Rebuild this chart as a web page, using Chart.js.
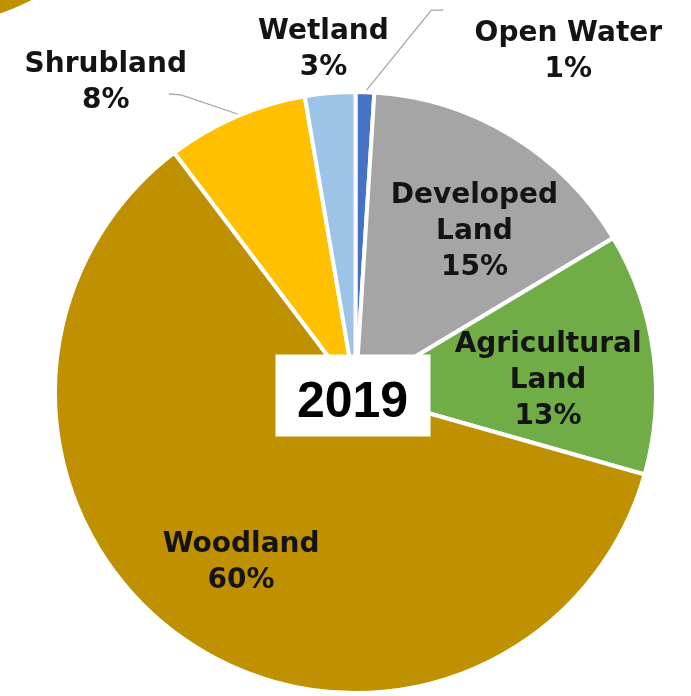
<!DOCTYPE html>
<html><head><meta charset="utf-8">
<script src="https://cdn.jsdelivr.net/npm/chart.js@4.4.1/dist/chart.umd.min.js"></script>
<style>
html,body{margin:0;padding:0;background:#fff;overflow:hidden;}
#wrap{position:relative;width:691px;height:696px;}
#corner{position:absolute;left:-401px;top:-569px;width:600px;height:600px;border-radius:50%;background:#BF9000;}
#c{position:absolute;left:0;top:0;}
</style></head><body>
<div id="wrap"><div id="corner"></div><canvas id="c" width="691" height="696"></canvas></div>
<script>
// ---- data ----
const categories = ['Open Water', 'Developed Land', 'Agricultural Land', 'Woodland', 'Shrubland', 'Wetland'];
const shares = [1.0, 15.4, 13.0, 60.3, 7.6, 2.7];
const labelLines = [['Open Water'], ['Developed', 'Land'], ['Agricultural', 'Land'], ['Woodland'], ['Shrubland'], ['Wetland']];
const yearLabel = '2019';

// ---- styling ----
const colors = ['#4472C4', '#A5A5A5', '#70AD47', '#BF9000', '#FFC000', '#9DC3E6'];
// label placement: polar (deg clockwise from top, distance in radius units)
const labelPolar = [[31.8, 1.353], [36, 0.678], [85.6, 0.647], [214.3, 0.68], [321.4, 1.341], [354.7, 1.162]];
const leaderLines = {
  0: [[0.037, -1.013], [0.254, -1.281], [0.294, -1.281]],
  4: [[-0.625, -1.0], [-0.585, -0.997], [-0.395, -0.933]]
};
const LABEL_FONT = 'bold 28px "DejaVu Sans"';
const LINE_GAP = 36;

const labelPlugin = {
  id: 'pieLabels',
  afterDatasetsDraw(chart) {
    const ctx = chart.ctx;
    const meta = chart.getDatasetMeta(0);
    const a0 = meta.data[0];
    const cx = a0.x, cy = a0.y, R = a0.outerRadius - 2;
    const total = shares.reduce((s, v) => s + v, 0);
    ctx.save();
    // leader lines
    ctx.strokeStyle = '#A6A6A6';
    ctx.lineWidth = 1.3;
    Object.keys(leaderLines).forEach(k => {
      const pts = leaderLines[k];
      ctx.beginPath();
      pts.forEach((p, i) => {
        const x = cx + p[0] * R, y = cy + p[1] * R;
        if (i === 0) ctx.moveTo(x, y); else ctx.lineTo(x, y);
      });
      ctx.stroke();
    });
    // labels
    ctx.fillStyle = '#141414';
    ctx.font = LABEL_FONT;
    ctx.textAlign = 'center';
    ctx.textBaseline = 'alphabetic';
    shares.forEach((v, i) => {
      const lines = labelLines[i].concat([Math.round(v / total * 100) + '%']);
      const [deg, d] = labelPolar[i];
      const rad = deg * Math.PI / 180;
      const bx = cx + Math.sin(rad) * d * R;
      const by = cy - Math.cos(rad) * d * R;
      const n = lines.length;
      lines.forEach((t, j) => {
        ctx.fillText(t, bx, by + (j - (n - 1) / 2) * LINE_GAP + 10);
      });
    });
    // year box
    ctx.fillStyle = '#ffffff';
    ctx.fillRect(cx - 80, cy - 38, 155, 82);
    ctx.fillStyle = '#000000';
    ctx.font = 'bold 50px "Liberation Sans"';
    ctx.fillText(yearLabel, cx - 3, cy + 24);
    ctx.restore();
  }
};

new Chart(document.getElementById('c'), {
  type: 'pie',
  data: {
    labels: categories,
    datasets: [{
      data: shares,
      backgroundColor: colors,
      borderColor: '#ffffff',
      borderWidth: 4
    }]
  },
  options: {
    responsive: false,
    animation: false,
    rotation: 0,
    layout: { padding: { left: 53, right: 33, top: 90, bottom: 1 } },
    plugins: { legend: { display: false }, tooltip: { enabled: false } }
  },
  plugins: [labelPlugin]
});
</script>
</body></html>
